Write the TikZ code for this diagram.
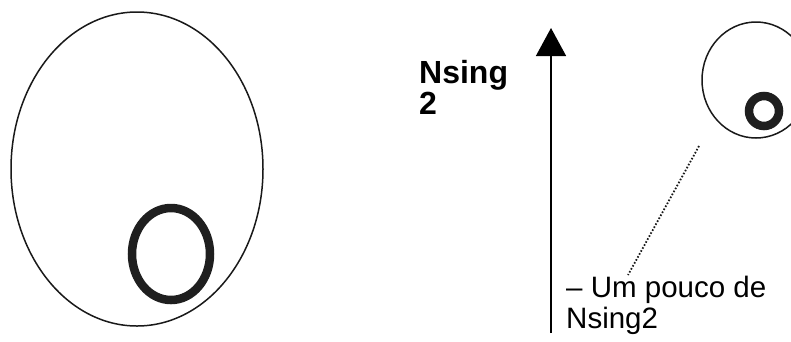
\documentclass[tikz,border=0pt]{standalone}
\usepackage{fontspec}
\setmainfont{Liberation Sans}
\usetikzlibrary{arrows.meta}
\begin{document}
\begin{tikzpicture}[x=1pt,y=-1pt,
  outline/.style={draw=black!90,line width=1.5pt},
  ringstroke/.style={draw=black!88,line width=8.5pt},
  lbl/.style={inner sep=0pt,align=left,font=\fontsize{29.5}{31}\selectfont}]
\useasboundingbox (0,0) rectangle (791,341);
\begin{scope}
\clip (0,0) rectangle (791,341);
% left big cell
\draw[outline] (137,169) ellipse [x radius=126, y radius=157];
\draw[ringstroke] (171,254) ellipse [x radius=39, y radius=46];
% right small cell
\draw[outline] (756,80) ellipse [x radius=54, y radius=58];
\draw[ringstroke] (764,111) ellipse [x radius=15, y radius=15];
\end{scope}
% arrow
\coordinate (abot) at (551,333);
\coordinate (atop) at (551,28);
\draw[line width=1.5pt,-{Triangle[length=28pt,width=30pt]}] (abot) -- (atop);
% labels
\node[lbl,font=\fontsize{32}{31}\selectfont\bfseries,anchor=base west] (ns) at (419,114) {Nsing\\2};
\node[lbl,anchor=base west] (up) at (566,328) {– Um pouco de\\Nsing2};
% dotted pointer
\coordinate (d1) at (699,146);
\coordinate (d2) at (628,275);
\draw[black!90,line width=1.8pt,dash pattern=on 1.6pt off 1.8pt] (d1) -- (d2);
\end{tikzpicture}
\end{document}
